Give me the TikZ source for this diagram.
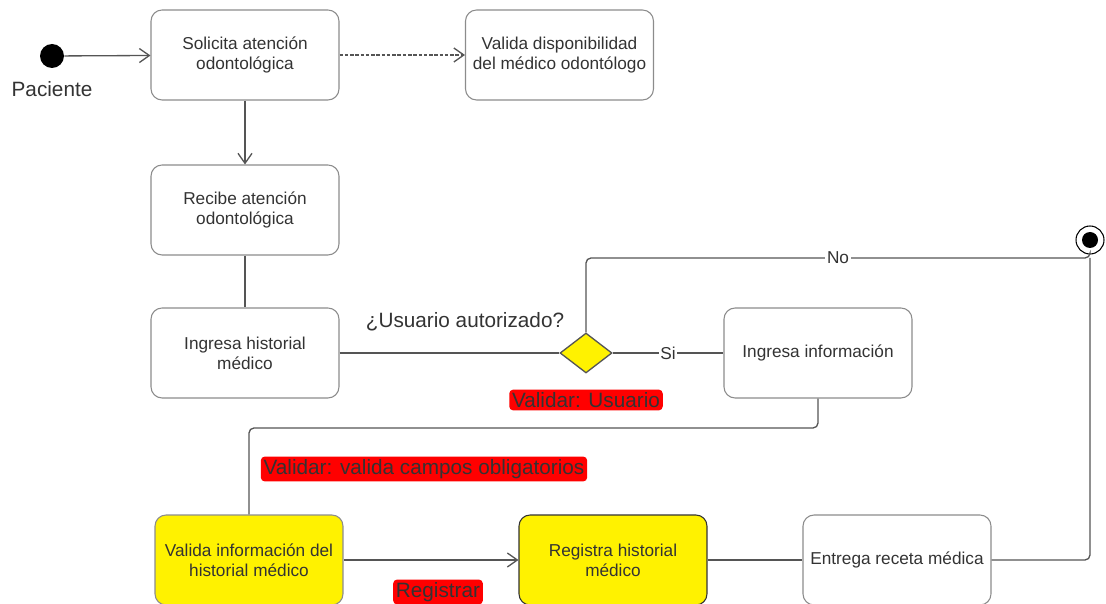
\documentclass[tikz,border=0pt]{standalone}
\usepackage{fontspec}
\setmainfont{Liberation Sans}
\usetikzlibrary{shapes.geometric,arrows.meta}

\begin{document}
\begin{tikzpicture}[x=0.02cm, y=-0.02cm,
    estado/.style={draw=mygris, fill=white, rounded corners=0.22cm, minimum width=3.76cm,
        minimum height=1.8cm, align=center, text=mytexto, line width=0.6pt,
        font=\fontsize{9.8}{11.4}\selectfont},
    linea/.style={draw=mylinea, line width=0.75pt},
    flecha/.style={linea, -{Straight Barb[length=2mm, width=2.8mm]}},
    regla/.style={fill=red, text=mytexto, rounded corners=0.08cm, inner sep=1.6pt,
        font=\fontsize{11.8}{13}\selectfont},
    etiqueta/.style={fill=white, inner sep=1pt, text=mytexto,
        font=\fontsize{9.8}{11}\selectfont}]
    \definecolor{mytexto}{RGB}{51,51,51}
    \definecolor{mygris}{RGB}{140,140,140}
    \definecolor{mylinea}{RGB}{85,85,85}

    \useasboundingbox (0,0) rectangle (1106,604);

    % inicio
    \node[circle, fill=black, minimum size=0.48cm, inner sep=0pt] (ini) at (52,56) {};
    \node[text=mytexto, font=\fontsize{11.8}{13}\selectfont] (pac) at (52,89) {Paciente};

    % estados
    \node[estado] (sol) at (245,55) {Solicita atención\\odontológica};
    \node[estado] (dis) at (559.5,55) {Valida disponibilidad\\del médico odontólogo};
    \node[estado] (rec) at (245,210) {Recibe atención\\odontológica};
    \node[estado] (his) at (245,353) {Ingresa historial\\médico};
    \node[diamond, draw=mylinea, fill=yellow, line width=0.75pt, inner sep=0pt,
        minimum width=1.04cm, minimum height=0.8cm] (dec) at (586,353) {};
    \node[estado] (inf) at (818,353) {Ingresa información};
    \node[estado, fill=yellow] (vhi) at (249,560) {Valida información del\\historial médico};
    \node[estado, fill=yellow, draw=mytexto] (reg) at (613,560) {Registra historial\\médico};
    \node[estado] (ent) at (897,560) {Entrega receta médica};

    % fin
    \node[circle, draw=black, fill=white, line width=0.6pt, minimum size=0.56cm, inner sep=0pt] (fin) at (1090,240) {};
    \fill[black] (fin.center) circle (0.16cm);

    % textos
    \node[text=mytexto, font=\fontsize{11.8}{13}\selectfont] (pre) at (465,322) {¿Usuario autorizado?};
    \node[regla] (rusu) at (586,400) {Validar: Usuario};
    \node[regla] (rcam) at (424,469) {Validar: valida campos obligatorios};
    \node[regla] (rreg) at (438,592) {Registrar};

    \coordinate (junta) at (1090,258);
    \coordinate (codo) at (249,428);

    % conectores
    \draw[flecha] (ini) -- (sol);
    \draw[flecha, dash pattern=on 2pt off 1pt] (sol) -- (dis);
    \draw[flecha] (sol) -- (rec);
    \draw[linea] (rec) -- (his);
    \draw[linea] (his) -- (dec);
    \draw[linea] (dec) -- node[etiqueta] {Si} (inf);
    \draw[linea, rounded corners=0.1cm] (dec.north) |- node[etiqueta, pos=0.75] {No} (junta) -- (fin.south);
    \draw[linea, rounded corners=0.1cm] (inf.south) |- (codo) -- (vhi.north);
    \draw[flecha] (vhi) -- (reg);
    \draw[linea] (reg) -- (ent);
    \draw[linea, rounded corners=0.1cm] (ent.east) -| (junta);
\end{tikzpicture}
\end{document}
